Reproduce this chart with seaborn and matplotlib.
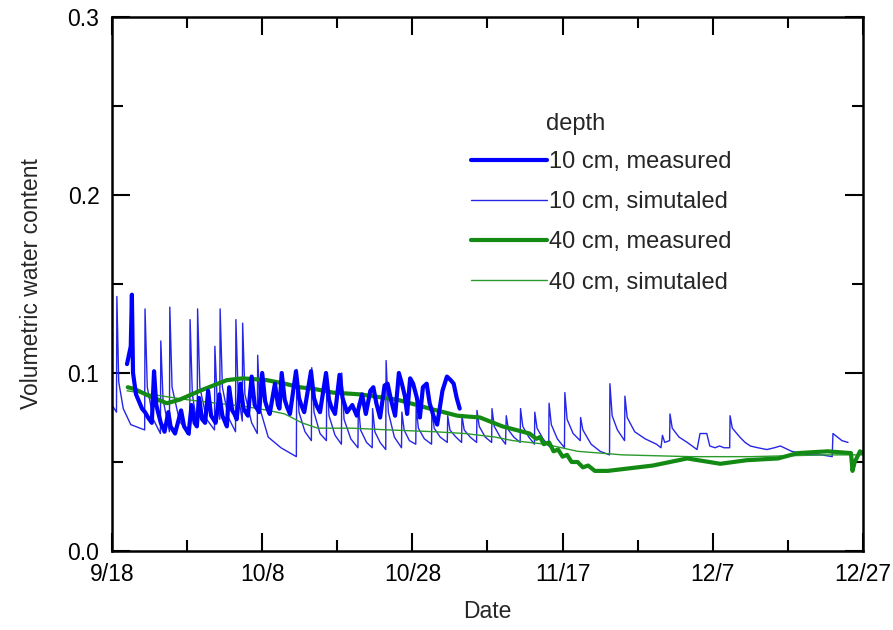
import numpy as np
import pandas as pd
import matplotlib
matplotlib.use("Agg")
import matplotlib.pyplot as plt
from matplotlib.lines import Line2D
import seaborn as sns

# days since 9/18
days_10_sim = [0.0, 0.6, 0.65, 0.9, 1.5, 2.5, 4.35, 4.4, 4.7, 5.5, 6.45, 6.5, 6.8, 7.65,
               7.7, 8.0, 9.0, 10.35, 10.4, 10.7, 11.35, 11.4, 11.7, 12.6, 13.65, 13.7, 14.0,
               14.35, 14.4, 14.7, 15.5, 16.45, 16.5, 16.8, 17.35, 17.4, 17.7, 18.6, 19.35,
               19.4, 19.7, 20.8, 22.5, 24.55, 24.6, 24.9, 25.7, 26.55, 26.6, 26.9, 27.7,
               28.55, 28.6, 28.9, 29.7, 30.55, 30.6, 30.9, 31.8, 32.75, 32.8, 33.1, 33.9,
               34.65, 34.7, 35.0, 35.7, 36.45, 36.5, 36.8, 37.6, 38.55, 38.6, 38.9, 39.6,
               40.45, 40.5, 40.8, 41.6, 42.55, 42.6, 42.9, 43.7, 44.65, 44.7, 45.0, 45.8,
               46.55, 46.6, 46.9, 47.7, 48.55, 48.6, 48.9, 49.7, 50.55, 50.6, 50.9, 51.7,
               52.4, 52.5, 52.8, 53.5, 54.35, 54.4, 54.7, 55.5, 56.25, 56.3, 56.6, 57.4,
               58.15, 58.2, 58.5, 59.3, 60.25, 60.3, 60.6, 61.4, 62.35, 62.4, 62.7, 63.8,
               65.0, 66.25, 66.3, 66.6, 67.3, 68.25, 68.3, 68.6, 69.6, 71.0, 72.5, 73.1,
               73.3, 73.6, 74.25, 74.3, 74.6, 75.5, 76.6, 77.9, 78.3, 79.2, 79.6, 80.3,
               80.9, 81.5, 82.25, 82.3, 82.6, 83.6, 84.3, 85.0, 86.0, 87.2, 88.2, 89.0,
               89.5, 90.5, 91.6, 93.0, 94.5, 95.9, 96.0, 96.6, 97.2, 98.0]
vwc_10_sim = [0.082, 0.078, 0.143, 0.095, 0.080, 0.071, 0.068, 0.136, 0.092, 0.074, 0.066,
              0.118, 0.085, 0.067, 0.137, 0.092, 0.073, 0.065, 0.130, 0.088, 0.071, 0.136,
              0.092, 0.074, 0.068, 0.115, 0.085, 0.074, 0.136, 0.092, 0.075, 0.067, 0.130,
              0.088, 0.073, 0.128, 0.088, 0.072, 0.066, 0.110, 0.080, 0.064, 0.058, 0.053,
              0.102, 0.078, 0.067, 0.062, 0.103, 0.078, 0.066, 0.062, 0.100, 0.076, 0.065,
              0.060, 0.100, 0.074, 0.063, 0.058, 0.083, 0.068, 0.061, 0.058, 0.080, 0.067,
              0.061, 0.057, 0.107, 0.078, 0.064, 0.058, 0.078, 0.068, 0.062, 0.060, 0.081,
              0.069, 0.063, 0.060, 0.080, 0.069, 0.064, 0.061, 0.076, 0.068, 0.064, 0.061,
              0.076, 0.068, 0.064, 0.061, 0.079, 0.070, 0.064, 0.061, 0.080, 0.070, 0.064,
              0.060, 0.076, 0.068, 0.064, 0.061, 0.080, 0.070, 0.064, 0.060, 0.078, 0.069,
              0.063, 0.059, 0.083, 0.071, 0.063, 0.058, 0.089, 0.074, 0.066, 0.062, 0.075,
              0.068, 0.060, 0.056, 0.054, 0.094, 0.076, 0.068, 0.062, 0.087, 0.075, 0.067,
              0.063, 0.060, 0.058, 0.065, 0.061, 0.062, 0.077, 0.069, 0.064, 0.061, 0.057,
              0.066, 0.066, 0.059, 0.058, 0.059, 0.058, 0.058, 0.076, 0.069, 0.064, 0.061,
              0.059, 0.058, 0.057, 0.058, 0.059, 0.058, 0.056, 0.055, 0.054, 0.054, 0.053,
              0.066, 0.064, 0.062, 0.061]

days_10_meas = [2.0, 2.5, 2.65, 2.8, 3.2, 3.6, 4.0, 4.4, 4.8, 5.3, 5.6, 5.9, 6.2, 6.5, 7.0,
                7.5, 7.8, 8.1, 8.4, 9.2, 9.6, 9.9, 10.2, 10.6, 11.0, 11.3, 11.6, 12.0, 12.4,
                12.8, 13.2, 13.5, 13.8, 14.3, 14.7, 15.0, 15.3, 15.6, 16.0, 16.3, 16.6,
                17.1, 17.5, 17.8, 18.1, 18.6, 19.0, 19.3, 19.6, 20.0, 20.4, 20.7, 21.0,
                21.7, 22.1, 22.3, 22.6, 23.0, 23.3, 23.7, 24.5, 24.9, 25.2, 25.6, 26.5,
                26.9, 27.2, 27.7, 28.5, 28.9, 29.2, 29.7, 30.3, 30.7, 31.0, 31.3, 32.0,
                32.6, 33.3, 33.8, 34.4, 34.8, 35.2, 35.7, 36.3, 36.7, 37.2, 37.7, 38.2,
                38.6, 39.0, 39.3, 39.7, 40.1, 40.6, 41.0, 41.4, 41.9, 42.3, 42.8, 43.3,
                44.0, 44.6, 45.1, 45.5, 45.9, 46.3]
vwc_10_meas = [0.105, 0.115, 0.144, 0.100, 0.088, 0.084, 0.080, 0.078, 0.075, 0.072, 0.101,
               0.082, 0.077, 0.072, 0.067, 0.078, 0.070, 0.068, 0.066, 0.079, 0.070, 0.068,
               0.066, 0.082, 0.072, 0.070, 0.086, 0.074, 0.072, 0.090, 0.076, 0.074, 0.072,
               0.088, 0.076, 0.073, 0.070, 0.092, 0.079, 0.077, 0.074, 0.094, 0.080, 0.078,
               0.076, 0.098, 0.082, 0.080, 0.078, 0.100, 0.084, 0.080, 0.077, 0.094, 0.082,
               0.080, 0.100, 0.085, 0.081, 0.077, 0.101, 0.086, 0.082, 0.078, 0.101, 0.086,
               0.082, 0.078, 0.100, 0.085, 0.081, 0.077, 0.099, 0.086, 0.082, 0.078, 0.082,
               0.076, 0.088, 0.077, 0.090, 0.092, 0.083, 0.075, 0.093, 0.094, 0.084, 0.076,
               0.100, 0.094, 0.087, 0.077, 0.097, 0.094, 0.086, 0.075, 0.092, 0.094, 0.083,
               0.076, 0.071, 0.090, 0.098, 0.096, 0.094, 0.086, 0.080]

days_40_meas = [2.1, 3.0, 5.0, 7.3, 9.0, 11.7, 13.5, 15.3, 17.4, 20.6, 23.0, 25.0, 27.0,
                29.4, 33.0, 38.0, 42.3, 46.0, 49.0, 52.0, 55.6, 56.5, 57.0, 57.5, 58.2,
                58.8, 59.4, 60.0, 60.6, 61.2, 62.0, 62.7, 63.4, 64.3, 66.0, 68.0, 72.0,
                76.6, 81.0, 84.5, 88.7, 91.3, 95.3, 98.4, 98.6, 98.9, 99.6, 100.0]
vwc_40_meas = [0.092, 0.091, 0.087, 0.083, 0.085, 0.090, 0.093, 0.096, 0.097, 0.096, 0.094,
               0.092, 0.091, 0.089, 0.088, 0.085, 0.080, 0.076, 0.075, 0.070, 0.066, 0.063,
               0.064, 0.060, 0.061, 0.056, 0.057, 0.053, 0.054, 0.050, 0.050, 0.047, 0.048,
               0.045, 0.045, 0.046, 0.048, 0.052, 0.049, 0.051, 0.052, 0.055, 0.056, 0.055,
               0.045, 0.050, 0.056, 0.055]

days_40_sim = [2.0, 10.0, 16.0, 18.0, 20.8, 23.0, 25.3, 27.4, 32.0, 37.0, 43.0, 47.0, 51.0,
               53.4, 57.7, 62.0, 68.0, 77.0, 85.0, 95.0, 100.0]
vwc_40_sim = [0.090, 0.085, 0.082, 0.081, 0.079, 0.077, 0.072, 0.069, 0.069, 0.068, 0.067,
              0.066, 0.064, 0.062, 0.060, 0.056, 0.054, 0.053, 0.053, 0.054, 0.054]

labels = ["10 cm, measured", "10 cm, simutaled", "40 cm, measured", "40 cm, simutaled"]
tick_labels = ["9/18", "10/8", "10/28", "11/17", "12/7", "12/27"]

start = pd.Timestamp("2008-09-18")


def to_frame(days, vals):
    return pd.DataFrame({"date": start + pd.to_timedelta(days, unit="D"), "vwc": vals})


sns.set_style("ticks")
plt.rcParams["font.family"] = ["Liberation Sans", "DejaVu Sans"]

fig, ax = plt.subplots(figsize=(8.93, 6.3), dpi=100)
fig.subplots_adjust(left=0.1254, right=0.9664, top=0.973, bottom=0.1254)

series = [
    (days_10_meas, vwc_10_meas, "#0000ff", 3.0),
    (days_10_sim, vwc_10_sim, "#2626e6", 1.0),
    (days_40_meas, vwc_40_meas, "#138a13", 3.0),
    (days_40_sim, vwc_40_sim, "#2a9a2a", 1.0),
]
draw_order = [1, 3, 2, 0]
for i in draw_order:
    d, v, c, lw = series[i]
    sns.lineplot(data=to_frame(d, v), x="date", y="vwc", color=c, linewidth=lw,
                 estimator=None, sort=False, ax=ax)

handles = [Line2D([], [], color=c, linewidth=lw) for _, _, c, lw in series]
ax.legend(handles, labels, frameon=False, loc="upper left",
          bbox_to_anchor=(0.478, 0.749), fontsize=17, handlelength=3.2,
          handletextpad=0.12, labelspacing=0.77, borderpad=0, borderaxespad=0)
ax.text(0.578, 0.80, "depth", transform=ax.transAxes, fontsize=17, ha="left", va="center")

ax.set_xlim(start, start + pd.Timedelta(days=100))
ax.set_ylim(0, 0.3)
major = [start + pd.Timedelta(days=20 * k) for k in range(6)]
minor = [start + pd.Timedelta(days=10 + 20 * k) for k in range(5)]
ax.set_xticks(major)
ax.set_xticklabels(tick_labels)
ax.set_xticks(minor, minor=True)
ax.set_yticks([0.0, 0.1, 0.2, 0.3])
ax.set_yticklabels(["0.0", "0.1", "0.2", "0.3"])
ax.set_yticks([0.05, 0.15, 0.25], minor=True)

ax.tick_params(which="both", direction="in", top=True, right=True, width=1.5,
               labelsize=16.5, colors="black")
ax.tick_params(which="major", length=13, pad=9)
ax.tick_params(which="minor", length=8)
for s in ax.spines.values():
    s.set_linewidth(1.8)
    s.set_color("black")

ax.set_xlabel("Date", fontsize=16.5, labelpad=10)
ax.set_ylabel("Volumetric water content", fontsize=16.5, labelpad=18)

fig.savefig("out.png", dpi=100)
